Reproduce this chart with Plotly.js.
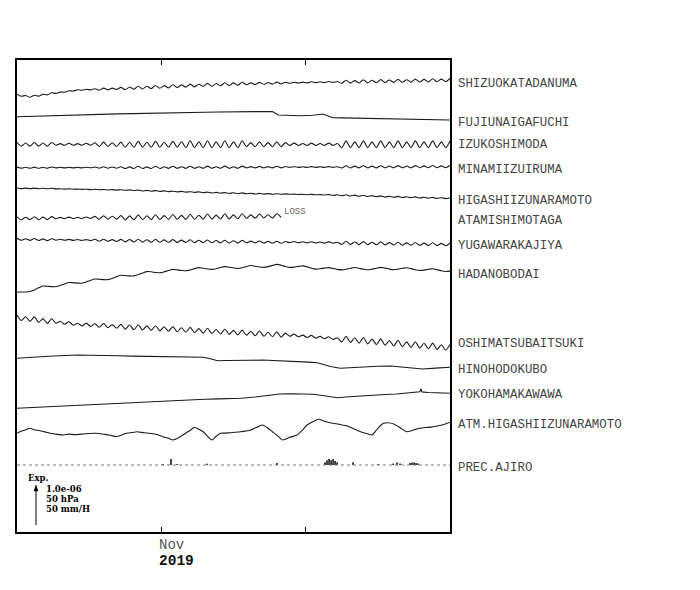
<!DOCTYPE html>
<html>
<head>
<meta charset="utf-8">
<script src="https://cdn.plot.ly/plotly-3.0.1.min.js"></script>
<style>html,body{margin:0;padding:0;background:#fff;}#chart{width:700px;height:590px;}</style>
</head>
<body>
<div id="chart"></div>
<script>
// ---- time base (window: 2019-10-22 .. 2019-11-21) ----
const DAY = 86400000;
const START = Date.UTC(2019, 9, 22);
const END = Date.UTC(2019, 10, 21);
const TICK_DATES = [Date.UTC(2019, 10, 1), Date.UTC(2019, 10, 11)];

// sampling grid (0.3 day) used by the tidal strain records
const STEP_DAYS = 0.3;
const T03 = Array.from({length: 101}, (_, i) => START + i * STEP_DAYS * DAY);

// ---- station names (top to bottom) ----
const STATIONS = ["SHIZUOKATADANUMA","FUJIUNAIGAFUCHI","IZUKOSHIMODA","MINAMIIZUIRUMA",
  "HIGASHIIZUNARAMOTO","ATAMISHIMOTAGA","YUGAWARAKAJIYA","HADANOBODAI",
  "OSHIMATSUBAITSUKI","HINOHODOKUBO","YOKOHAMAKAWAWA","ATM.HIGASHIIZUNARAMOTO","PREC.AJIRO"];

// ---- series values (relative change, display units; 40 units = 1.0e-06 / 50 hPa / 50 mm/H) ----
const SHIZUOKATADANUMA = [
 0.8,-1.3,-0.5,-2.3,-0.2,-1.1,0.8,0.1,2.2,1.6,
 2.9,2.8,4.2,4.0,5.3,4.8,5.7,5.1,6.3,4.9,
 6.9,5.3,6.9,5.6,7.6,5.3,8.0,5.7,8.8,6.0,
 8.7,6.4,9.5,6.7,9.4,7.1,10.2,7.4,10.1,7.8,
 10.9,8.1,10.8,8.5,11.6,8.8,11.5,9.2,12.3,9.5,
 12.1,9.7,12.8,10.3,12.1,10.5,12.6,10.7,12.5,10.9,
 12.9,11.0,12.8,11.7,12.8,11.9,12.9,12.1,13.2,12.2,
 13.2,12.4,13.5,12.6,13.5,11.7,14.8,11.9,14.4,12.0,
 15.1,12.1,14.7,12.3,15.4,12.4,15.0,12.6,15.6,12.7,
 15.3,12.9,15.9,13.0,15.6,13.1,16.2,13.3,15.9,13.4,
 16.5];

const FUJI_DAYS = [0,1,2,3,4.2,5,6,7,8,8.7,10,11,12,13,14,15.5,16.3,17.0,17.7,18.1,18.6,19.6,20.5,21.2,21.5,21.9,22.5,24,25,26.3,27.5,28.5,29.9,30];
const FUJIUNAIGAFUCHI = [0,0.5,0.9,1.3,1.7,2.0,2.4,2.8,3.1,3.4,3.8,4.1,4.3,4.5,4.7,5.0,5.3,5.5,5.2,1.7,1.3,1.0,1.4,2.7,1.0,-1.0,-1.2,-1.6,-1.9,-2.3,-2.6,-3.0,-3.3,-3.3];

const IZUKOSHIMODA = [
 1.8,-1.8,1.3,-1.8,1.8,-1.8,1.3,-1.8,1.8,-1.0,
 0.7,-1.0,1.0,-1.0,0.7,-1.0,1.0,-1.0,1.5,-2.2,
 2.2,-2.2,1.5,-2.2,2.2,-3.0,2.1,-3.0,3.0,-3.0,
 2.1,-3.0,3.0,-3.0,2.1,-3.0,3.0,-3.0,2.5,-3.5,
 3.5,-3.5,2.5,-3.5,3.5,-3.5,2.5,-3.5,3.5,-3.5,
 2.5,-3.5,3.5,-2.4,1.7,-2.4,2.4,-2.4,1.7,-2.4,
 2.4,-2.4,1.7,-1.2,1.2,-1.2,0.8,-1.2,1.2,-1.2,
 0.8,-1.2,1.2,-1.2,0.8,-3.4,3.4,-3.4,2.4,-3.4,
 3.4,-3.4,2.4,-3.4,3.4,-3.4,2.4,-3.4,3.4,-3.4,
 2.4,-3.4,3.4,-3.4,2.4,-3.4,3.4,-3.4,2.4,-3.4,
 3.4];

const MINAMIIZUIRUMA = [
 0.6,-0.6,0.4,-0.6,0.6,-0.6,0.5,-0.5,0.7,-0.2,
 0.4,-0.2,0.4,-0.2,0.4,-0.2,0.5,-0.1,0.7,-0.5,
 0.9,-0.5,0.7,-0.5,0.9,-0.8,0.8,-0.8,1.4,-0.8,
 0.8,-0.8,1.4,-0.8,0.9,-0.7,1.5,-0.7,0.9,-0.7,
 1.5,-0.7,1.0,-0.6,1.6,-0.6,1.0,-0.6,1.6,-0.6,
 1.0,-0.6,1.6,-0.2,1.1,-0.2,1.3,-0.2,1.1,-0.2,
 1.4,-0.2,1.2,0.3,1.0,0.3,0.9,0.3,1.1,0.3,
 0.9,0.3,1.1,0.3,1.0,-0.3,1.9,-0.3,1.6,-0.2,
 2.0,-0.2,1.6,-0.2,2.0,-0.1,1.7,-0.1,2.1,-0.1,
 1.7,-0.1,2.1,0.0,1.8,0.0,2.2,0.0,1.8,0.0,
 2.2];

const HIGASHIIZUNARAMOTO = [
 0.3,-0.3,0.2,-0.4,0.2,-0.4,0.1,-0.5,0.0,-0.6,
 -0.5,-0.8,-0.6,-0.9,-0.8,-1.1,-0.9,-1.3,-1.0,-1.5,
 -1.2,-1.7,-1.3,-1.8,-1.4,-2.0,-1.6,-2.2,-1.8,-2.7,
 -2.1,-2.9,-2.3,-3.1,-2.6,-3.3,-2.9,-3.6,-3.1,-3.8,
 -3.4,-4.1,-3.6,-4.4,-3.8,-4.7,-4.1,-4.9,-4.3,-5.2,
 -4.5,-5.4,-4.6,-5.5,-4.9,-5.7,-5.1,-5.8,-5.3,-5.9,
 -5.4,-6.0,-5.6,-6.0,-5.8,-6.2,-6.0,-6.4,-6.1,-6.5,
 -6.3,-6.7,-6.3,-7.2,-6.4,-7.5,-6.5,-7.7,-6.8,-8.0,
 -7.0,-8.2,-7.3,-8.5,-7.6,-8.8,-7.9,-9.0,-8.1,-9.2,
 -8.4,-9.4,-8.6,-9.7,-8.9,-9.9,-9.1,-10.1,-9.4,-10.3,
 -9.7];

// record stops (data loss) after ~18.3 days
const ATAMISHIMOTAGA = [
 1.5,-1.5,1.1,-1.4,1.6,-1.4,1.2,-1.3,1.7,-0.4,
 0.9,-0.3,1.2,-0.3,1.0,-0.2,1.3,-0.1,1.9,-1.0,
 2.6,-0.9,2.1,-0.8,2.8,-1.6,2.4,-1.5,3.4,-1.4,
 2.5,-1.3,3.6,-1.2,2.7,-1.1,3.8,-1.0,2.9,-1.1,
 4.1,-1.0,3.1,-0.9,4.3,-0.8,3.2,-0.7,4.5,-0.6,
 3.4,-0.5,4.6,0.0,3.4,0.2,4.3,0.3,3.5,0.4,
 4.6,1.0];

const YUGAWARAKAJIYA = [
 1.0,-1.0,0.6,-1.1,0.8,-1.2,0.4,-1.3,0.6,-0.9,
 0.0,-1.0,-0.1,-1.1,-0.2,-1.2,-0.3,-1.3,0.1,-1.9,
 0.1,-2.0,-0.3,-2.1,-0.1,-2.6,-0.2,-2.7,0.1,-2.8,
 -0.4,-2.9,-0.1,-3.0,-0.6,-3.0,-0.3,-3.1,-0.8,-3.2,
 -0.5,-3.3,-1.0,-3.4,-0.7,-3.5,-1.2,-3.6,-0.9,-3.7,
 -1.4,-3.8,-1.1,-3.5,-1.8,-3.6,-1.7,-3.8,-2.0,-3.9,
 -1.9,-4.0,-2.2,-3.4,-2.2,-3.5,-2.5,-3.6,-2.4,-3.7,
 -2.7,-3.8,-2.6,-3.9,-2.9,-5.0,-2.0,-5.2,-2.7,-5.3,
 -2.3,-5.4,-3.0,-5.5,-2.6,-5.6,-3.3,-5.7,-2.9,-5.9,
 -3.6,-6.0,-3.2,-6.1,-3.8,-6.2,-3.4,-6.3,-4.1,-6.4,
 -3.7];

const HADANOBODAI = [
 1.2,1.5,1.5,2.0,3.6,5.7,7.5,7.3,6.9,6.8,
 8.0,9.6,11.0,10.8,10.4,10.3,11.5,13.1,14.5,14.3,
 13.9,13.9,15.1,16.8,18.2,18.0,17.6,17.6,18.9,20.5,
 21.9,21.7,21.0,20.7,21.7,23.0,24.1,23.6,23.0,22.7,
 23.6,24.9,25.9,25.3,24.5,24.1,24.8,26.0,26.9,26.3,
 25.5,25.0,25.8,27.0,28.0,27.3,26.5,26.1,26.9,28.1,
 29.1,28.3,27.0,26.1,26.4,27.1,27.6,26.6,25.3,24.4,
 24.7,25.4,25.9,25.1,24.1,23.6,24.2,25.2,26.0,25.2,
 24.3,23.7,24.3,25.3,26.1,25.4,24.4,23.8,24.4,25.2,
 25.8,24.9,23.7,23.0,23.4,24.2,24.8,23.9,22.7,22.0,
 22.4];

const OSHIMATSUBAITSUKI = [
 2.5,-3.0,0.8,-3.9,0.6,-4.9,-1.1,-5.9,-1.3,-5.8,
 -3.8,-6.8,-4.3,-7.7,-5.7,-8.4,-5.6,-8.9,-6.2,-9.8,
 -6.0,-10.2,-7.1,-10.7,-6.9,-11.6,-7.5,-12.1,-7.3,-12.5,
 -8.4,-12.9,-8.2,-13.4,-9.3,-13.8,-9.1,-14.3,-10.2,-14.7,
 -9.9,-15.2,-11.1,-15.6,-10.8,-16.0,-12.0,-16.5,-11.7,-16.9,
 -12.9,-17.4,-12.6,-17.8,-13.8,-18.3,-13.5,-18.8,-14.7,-19.2,
 -14.4,-19.7,-15.6,-18.8,-16.6,-19.3,-17.6,-20.0,-17.9,-20.6,
 -18.9,-21.3,-19.2,-21.9,-20.2,-24.4,-18.7,-25.0,-20.3,-25.7,
 -20.0,-26.4,-21.6,-27.1,-21.4,-27.8,-23.0,-28.5,-22.8,-29.2,
 -24.4,-29.9,-24.2,-30.6,-25.8,-31.3,-25.6,-32.0,-27.2,-32.7,
 -27.0];

const HINO_DAYS = [0,0.5,1,1.5,2,2.5,3,3.5,4.2,5,5.7,6.4,7,8,9,10,11.1,12,12.9,13.4,13.9,14.5,15.5,16.2,17,18,18.7,19.5,20.2,20.8,21.3,21.8,22.4,23.2,24,25,25.9,26.8,27.5,28.1,29,29.9,30];
const HINOHODOKUBO = [0,0.6,1.2,1.5,2.0,2.3,2.6,3.0,3.3,3.0,2.6,2.3,2.5,2.2,2.0,1.8,1.6,1.3,1.0,-0.5,-2.4,-2.2,-2.4,-2.0,-1.7,-2.2,-2.7,-3.2,-3.8,-4.4,-6.5,-8.5,-10,-9.2,-8.4,-8.0,-7.7,-8.8,-10,-10.7,-9.8,-9.0,-9.0];

const YOKO_DAYS = [0,1,2,3,4.2,5,6,7,8,8.7,10,11.1,12,13,14,15.5,16.5,17.5,18.2,19,20,20.5,21.3,22.2,23,24,24.5,25.5,26.3,27,27.9,28.0,28.05,28.5,29.2,29.9,30];
const YOKOHAMAKAWAWA = [0,0.7,1.5,2.3,3.3,4.0,4.7,5.4,6.0,6.6,7.5,8.3,8.7,9.0,9.4,10,11.3,12.8,14.3,14.6,14.2,14.0,12.5,10.6,11.5,12.6,13.3,13.8,14.3,15.2,16.6,19.5,16.4,15.8,15.3,15.0,15.0];

const ATM_DAYS = [0,0.2,0.5,0.9,1.2,1.6,2.0,2.3,2.7,3.2,3.6,4.0,4.6,5.0,5.5,6.0,6.4,6.9,7.3,7.6,8.0,8.3,8.8,9.2,9.7,10.1,10.5,10.8,11.2,11.5,12.0,12.3,12.6,12.9,13.2,13.5,13.8,14.1,14.4,14.8,15.1,15.5,15.8,16.2,16.6,17.0,17.4,17.7,18.1,18.4,18.9,19.4,19.8,20.1,20.5,20.9,21.3,21.7,22.3,22.9,23.4,24.0,24.3,24.6,25.0,25.4,25.7,26.1,26.6,27.0,27.5,27.9,28.3,28.7,29.1,29.5,29.9,30];
const ATM_HIGASHIIZUNARAMOTO = [0,1.6,3.0,5.0,3.5,2.6,1.2,0,-0.8,-1.7,-0.8,-1.3,-0.7,-0.2,0,-0.9,-1.7,-3.4,-1.5,0,0.8,1.6,0.6,0,-1.2,-3.4,-5.0,-6.7,-4.5,-1.7,3.0,6.0,4.0,1.6,-3.0,-6.7,-3.0,0,0.2,0.6,1.0,1.6,2.2,3.3,6.0,8.3,5.0,1.6,-3.0,-6.7,-4.0,-1.7,3.5,8.3,11.5,14.0,12.0,10.6,9.0,7.3,4.0,0.6,-0.5,-1.7,5.0,10.0,10.5,9.3,5.0,1.6,3.5,5.0,5.8,6.2,7.3,8.5,10.6,10.8];

const PREC_DAYS = [10.12,10.67,11.09,13.17,18.02,21.34,21.48,21.62,21.76,21.9,22.04,22.18,23.28,25.02,26.06,26.33,26.54,27.23,27.37,27.51,27.65,27.79];
const PREC_AJIRO_MMH = [1.2,7.5,1.2,1.5,2.5,3.5,6,7.5,6,7.5,5,3.5,3.5,1.2,2,3,2,2.5,3,3,2.5,2];

// ---- layout constants (not data) ----
const YMAX = 472;
const OFFSETS = [437, 415.3, 387.7, 364.3, 343.7, 313.7, 292.7, 238.5, 214.5, 173.7, 123.7, 98.7, 67];
const LABEL_Y = [448, 409, 387, 362, 331, 311, 286, 257, 188, 162, 137, 107, 64];
const PREC_SCALE = 40 / 50; // 50 mm/H spans 40 display units
const LINE = {color: '#1a1a1a', width: 1.1};

const toMs = d => START + d * DAY;
const shift = (arr, off) => arr.map(v => v + off);

const series = [
  {x: T03, y: SHIZUOKATADANUMA, spline: true},
  {x: FUJI_DAYS.map(toMs), y: FUJIUNAIGAFUCHI, spline: false},
  {x: T03, y: IZUKOSHIMODA, spline: true},
  {x: T03, y: MINAMIIZUIRUMA, spline: true},
  {x: T03, y: HIGASHIIZUNARAMOTO, spline: true},
  {x: T03.slice(0, ATAMISHIMOTAGA.length), y: ATAMISHIMOTAGA, spline: true},
  {x: T03, y: YUGAWARAKAJIYA, spline: true},
  {x: T03, y: HADANOBODAI, spline: true},
  {x: T03, y: OSHIMATSUBAITSUKI, spline: true},
  {x: HINO_DAYS.map(toMs), y: HINOHODOKUBO, spline: false},
  {x: YOKO_DAYS.map(toMs), y: YOKOHAMAKAWAWA, spline: false},
  {x: ATM_DAYS.map(toMs), y: ATM_HIGASHIIZUNARAMOTO, spline: true}
];

const traces = series.map((s, k) => ({
  type: 'scatter', mode: 'lines', x: s.x, y: shift(s.y, OFFSETS[k]),
  line: Object.assign({}, LINE, s.spline ? {shape: 'spline', smoothing: 0.7} : {}),
  hoverinfo: 'skip', showlegend: false
}));

// precipitation baseline + bars
traces.push({
  type: 'scatter', mode: 'lines', x: [START, END], y: [OFFSETS[12], OFFSETS[12]],
  line: {color: '#777', width: 1, dash: 'dot'}, hoverinfo: 'skip', showlegend: false
});
traces.push({
  type: 'bar', x: PREC_DAYS.map(toMs), y: PREC_AJIRO_MMH.map(v => v * PREC_SCALE),
  base: OFFSETS[12], width: 0.1 * DAY, marker: {color: '#000', line: {width: 0}},
  hoverinfo: 'skip', showlegend: false
});

const MONO = 'Liberation Mono, Courier New, monospace';
const SERIF = 'DejaVu Serif, serif';

const annotations = STATIONS.map((name, k) => ({
  text: name, xref: 'paper', x: 1, xanchor: 'left', xshift: 6,
  yref: 'y', y: LABEL_Y[k], yanchor: 'middle', showarrow: false,
  font: {family: MONO, size: 12.4, color: '#444'}
}));

annotations.push({
  text: 'LOSS', xref: 'x', x: T03[ATAMISHIMOTAGA.length - 1], xanchor: 'left', xshift: 1,
  yref: 'y', y: 320, yanchor: 'middle', showarrow: false,
  font: {family: MONO, size: 9, color: '#666'}
});

const px = v => (v - 17) / 433;
const py = v => (532 - v) / 472;
annotations.push({text: '<b>Exp.</b>', xref: 'paper', yref: 'paper', x: px(26), y: py(478), xanchor: 'left', yanchor: 'middle', showarrow: false, font: {family: SERIF, size: 8.5, color: '#000'}});
annotations.push({text: '<b>1.0e-06</b>', xref: 'paper', yref: 'paper', x: px(44), y: py(489), xanchor: 'left', yanchor: 'middle', showarrow: false, font: {family: SERIF, size: 8.5, color: '#000'}});
annotations.push({text: '<b>50 hPa</b>', xref: 'paper', yref: 'paper', x: px(44), y: py(499), xanchor: 'left', yanchor: 'middle', showarrow: false, font: {family: SERIF, size: 8.5, color: '#000'}});
annotations.push({text: '<b>50 mm/H</b>', xref: 'paper', yref: 'paper', x: px(44), y: py(509), xanchor: 'left', yanchor: 'middle', showarrow: false, font: {family: SERIF, size: 8.5, color: '#000'}});

annotations.push({text: 'Nov', xref: 'x', x: TICK_DATES[0], xanchor: 'left', xshift: -4, yref: 'paper', y: -(545 - 532) / 472, yanchor: 'middle', showarrow: false, font: {family: MONO, size: 14, color: '#555'}});
annotations.push({text: '<b>2019</b>', xref: 'x', x: TICK_DATES[0], xanchor: 'left', xshift: -4, yref: 'paper', y: -(561 - 532) / 472, yanchor: 'middle', showarrow: false, font: {family: MONO, size: 14.5, color: '#111'}});

const shapes = [
  {type: 'line', xref: 'paper', yref: 'paper', x0: px(36), x1: px(36), y0: py(525), y1: py(489), line: {color: '#000', width: 1}},
  {type: 'path', xref: 'paper', yref: 'paper',
   path: `M ${px(36)} ${py(485)} L ${px(34)} ${py(491)} L ${px(38)} ${py(491)} Z`,
   fillcolor: '#000', line: {color: '#000', width: 0.5}}
];

const layout = {
  width: 700, height: 590,
  margin: {l: 17, r: 250, t: 60, b: 58, pad: 0},
  paper_bgcolor: '#fff', plot_bgcolor: '#fff',
  showlegend: false,
  xaxis: {
    type: 'date', range: [START, END], tickvals: TICK_DATES, showticklabels: false,
    ticks: 'inside', ticklen: 5, tickwidth: 1, tickcolor: '#000',
    showline: true, linewidth: 2, linecolor: '#000', mirror: 'ticks',
    showgrid: false, zeroline: false, fixedrange: true
  },
  yaxis: {
    range: [0, YMAX], showticklabels: false, ticks: '',
    showline: true, linewidth: 2, linecolor: '#000', mirror: true,
    showgrid: false, zeroline: false, fixedrange: true
  },
  annotations: annotations,
  shapes: shapes
};

Plotly.newPlot('chart', traces, layout, {staticPlot: true, displayModeBar: false});
</script>
</body>
</html>
